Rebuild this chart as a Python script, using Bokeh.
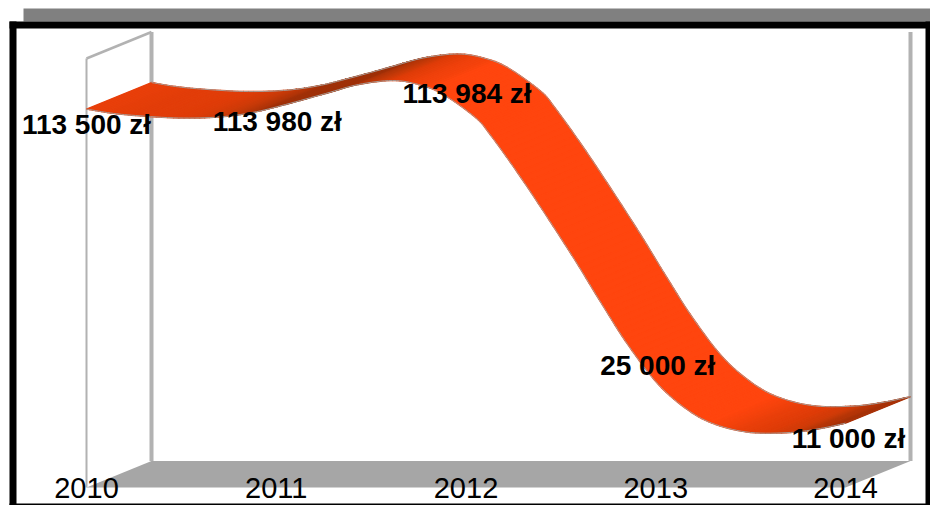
import math
import numpy as np
from bokeh.embed import file_html
from bokeh.resources import INLINE
from bokeh.plotting import figure
from bokeh.models import BoxAnnotation, ColumnDataSource
from bokeh.core.properties import value

# ---- data ----
years = ["2010", "2011", "2012", "2013", "2014"]
values = [113500, 113980, 113984, 25000, 11000]
labels = ["113 500 zł", "113 980 zł", "113 984 zł", "25 000 zł", "11 000 zł"]
axis_min = -10000
axis_max = 130000

# front edge of the ribbon: category position, value
edge_pos = [0.0, 0.126, 0.258, 0.485, 0.696, 0.875, 1.049, 1.260, 1.433, 1.613, 1.750, 1.876,
            2.050, 2.129, 2.271, 2.419, 2.577, 2.719, 2.856, 3.014, 3.173, 3.315, 3.499, 3.710, 3.868, 4.0]
edge_val = [113500, 112215, 111400, 110585, 110910, 112380, 114990, 118580, 121515, 122820, 121515, 118420,
            110750, 105040, 92800, 79100, 63925, 49570, 36350, 23625, 15140, 10570, 7960, 7960, 9270, 11000]

# ---- layout ----
W, H = 930, 505
X0, XS = 86.0, 189.75        # page px of category 0, px per category
Y_TOP, Y_BOT = 58.0, 487.0   # page px of axis_max / axis_min
PX_V = (Y_BOT - Y_TOP) / (axis_max - axis_min)
DX = 65.0 / XS               # depth of the 3D box in category units
DV = 26.5 / PX_V             # depth of the 3D box in value units


def page_x(px):
    return (px - X0) / XS


def page_v(py):
    return axis_max - (py - Y_TOP) / PX_V


def spline(xs, ys, n=8):
    """Catmull-Rom through the read points."""
    xs, ys = np.array(xs, float), np.array(ys, float)
    ox, oy = [], []
    for i in range(len(xs) - 1):
        a, b = max(i - 1, 0), min(i + 2, len(xs) - 1)
        tx0 = (xs[i + 1] - xs[a]) / (i + 1 - a)
        ty0 = (ys[i + 1] - ys[a]) / (i + 1 - a)
        tx1 = (xs[b] - xs[i]) / (b - i)
        ty1 = (ys[b] - ys[i]) / (b - i)
        for j in range(n):
            t = j / n
            h00, h10, h01, h11 = 2*t**3-3*t**2+1, t**3-2*t**2+t, -2*t**3+3*t**2, t**3-t**2
            ox.append(h00*xs[i]+h10*tx0+h01*xs[i+1]+h11*tx1)
            oy.append(h00*ys[i]+h10*ty0+h01*ys[i+1]+h11*ty1)
    ox.append(xs[-1]); oy.append(ys[-1])
    return np.array(ox), np.array(oy)


def shade(angle):
    """Ribbon colour from its slope in degrees (+ = going down on screen)."""
    stops = [(-25, (152, 46, 10)), (-14, (160, 48, 8)), (-6, (198, 58, 8)),
             (0, (222, 60, 8)), (10, (232, 63, 10)), (22, (255, 69, 14))]
    if angle <= stops[0][0]:
        c = stops[0][1]
    elif angle >= stops[-1][0]:
        c = stops[-1][1]
    else:
        for (a0, c0), (a1, c1) in zip(stops, stops[1:]):
            if a0 <= angle <= a1:
                f = (angle - a0) / (a1 - a0)
                c = tuple(c0[k] + (c1[k] - c0[k]) * f for k in range(3))
                break
    return "#%02x%02x%02x" % tuple(int(round(v)) for v in c)


p = figure(width=W, height=H, output_backend="svg", toolbar_location=None,
           x_range=(page_x(0), page_x(W)), y_range=(page_v(H), page_v(0)),
           min_border=0, min_border_left=0, min_border_right=0, min_border_top=0, min_border_bottom=0,
           outline_line_color=None, background_fill_color="white", border_fill_color="white",
           x_axis_location=None, y_axis_location=None)
p.grid.visible = False


def band(l, t, r, b, color):
    # screen y of these box edges counts up from the canvas bottom
    p.add_layout(BoxAnnotation(left=l, right=r, top=H - t, bottom=H - b,
                               left_units="screen", right_units="screen",
                               top_units="screen", bottom_units="screen",
                               fill_color=color, fill_alpha=1, line_color=None,
                               level="underlay"))


# decorative frame
band(23, 8, 930, 21, "#808080")
band(9, 21, 930, 28, "#000000")
band(9, 21, 16, 505, "#000000")
band(925, 21, 930, 505, "#000000")
band(9, 503, 930, 505, "#000000")

# 3D box
right = len(years) - 1
p.patch([0, DX, right + DX, right], [axis_min, axis_min + DV, axis_min + DV, axis_min],
        fill_color="#a6a6a6", line_color=None)
WALL = "#b2b2b2"
p.line([0, 0], [axis_min, axis_max], line_color=WALL, line_width=2)
p.line([0, DX], [axis_max, axis_max + DV], line_color=WALL, line_width=2.5)
p.line([DX, DX], [axis_min + DV, axis_max + DV], line_color=WALL, line_width=4)
p.line([right + DX, right + DX], [axis_min + DV, axis_max + DV], line_color=WALL, line_width=4)

# ribbon
cx, cv = spline(edge_pos, edge_val)
xs, ys, cols = [], [], []
for i in range(len(cx) - 1):
    dx_px = (cx[i + 1] - cx[i]) * XS
    dy_px = (cv[i] - cv[i + 1]) * PX_V
    ang = math.degrees(math.atan2(dy_px, dx_px))
    xs.append([cx[i], cx[i + 1], cx[i + 1] + DX, cx[i] + DX])
    ys.append([cv[i], cv[i + 1], cv[i + 1] + DV, cv[i] + DV])
    cols.append(shade(ang))
p.patches(xs="xs", ys="ys", fill_color="cols", line_color="cols", line_width=1.4,
          source=ColumnDataSource(dict(xs=xs, ys=ys, cols=cols)))
p.line(cx, cv, line_color="#a89c96", line_width=1)
p.line(cx + DX, cv + DV, line_color="#a89c96", line_width=1)

# data labels
lab_dx = [0, 1, 1, 2, 3]
lab_dy = [15, 14, -14, -15, 15]
p.text(x=list(range(len(years))), y=values, text=labels, text_font=value("Liberation Sans"),
       text_font_style="bold", text_font_size="28px", text_color="#000000",
       text_align="center", text_baseline="middle", x_offset=lab_dx, y_offset=lab_dy)

# category labels
p.text(x=list(range(len(years))), y=[axis_min] * len(years), text=years,
       text_font=value("Liberation Sans"), text_font_size="29px", text_color="#000000",
       text_align="center", text_baseline="middle", y_offset=0)

open("out.html", "w").write(file_html(p, INLINE))
